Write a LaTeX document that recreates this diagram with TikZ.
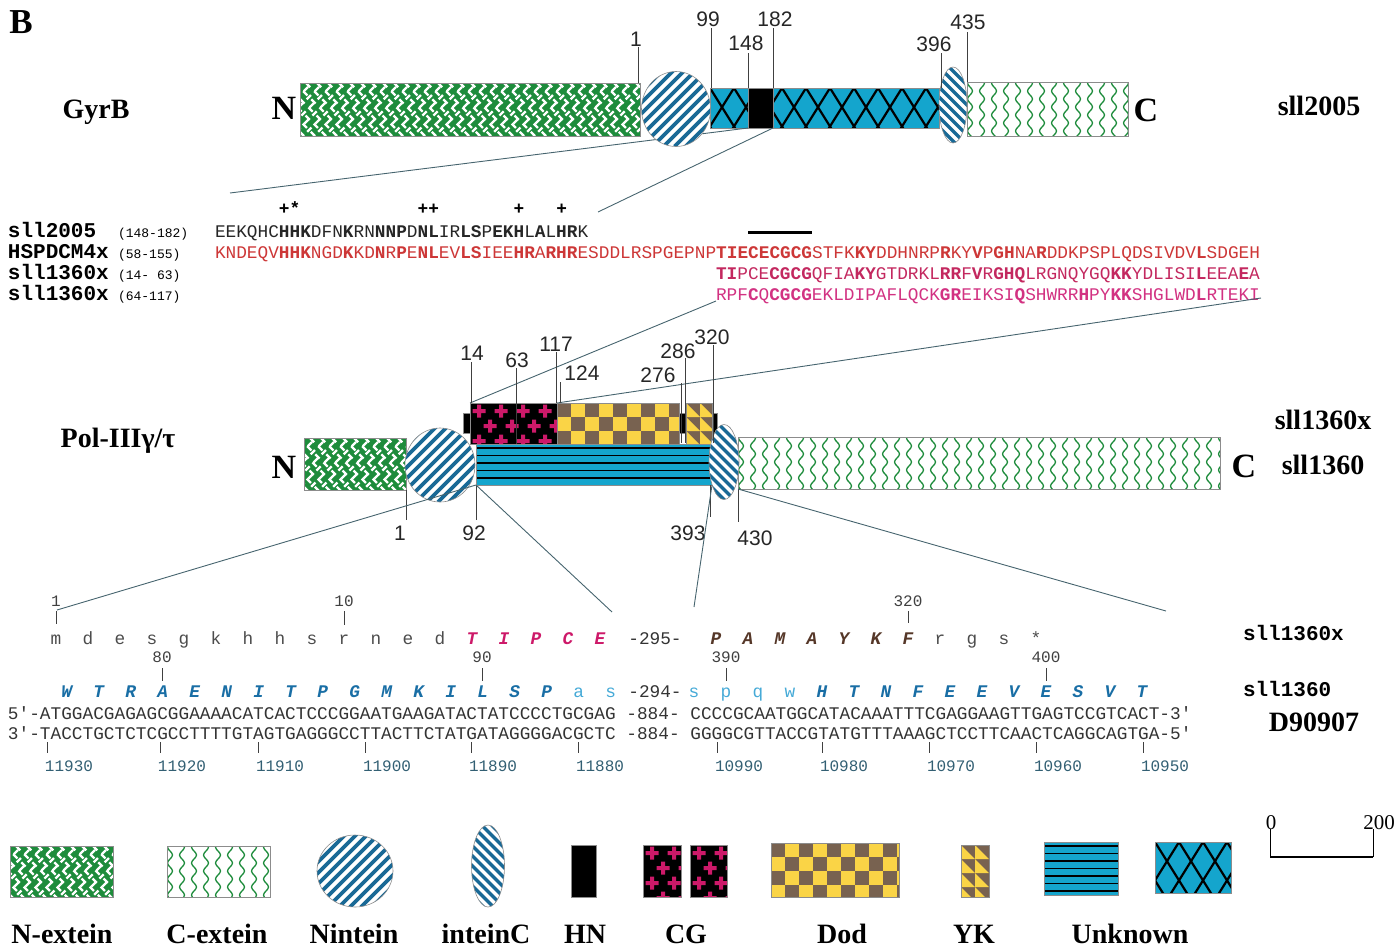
\documentclass[tikz,border=0pt]{standalone}
\usepackage{fontspec}
\setmainfont{Liberation Serif}
\setsansfont{Liberation Sans}
\setmonofont{Liberation Mono}
\usetikzlibrary{calc, shapes.geometric, decorations.pathmorphing}

\definecolor{extgreen}{RGB}{30,140,60}
\definecolor{intblue}{RGB}{25,105,150}
\definecolor{unkblue}{RGB}{20,165,205}
\definecolor{cgpink}{RGB}{205,25,105}
\definecolor{dodyellow}{RGB}{250,212,70}
\definecolor{dodbrown}{RGB}{120,98,80}
\definecolor{seqred}{RGB}{205,55,55}
\definecolor{seqrose}{RGB}{195,40,95}
\definecolor{seqmag}{RGB}{210,50,130}
\definecolor{seqblue}{RGB}{25,110,165}
\definecolor{seqsky}{RGB}{70,170,215}
\definecolor{seqbrown}{RGB}{85,55,40}
\definecolor{linegray}{RGB}{70,100,110}
\definecolor{numteal}{RGB}{50,95,115}

\tikzset{
  every node/.style={inner sep=0pt, outer sep=0pt},
  lab/.style={font=\bfseries\fontsize{28}{30}\selectfont},
  endlab/.style={font=\bfseries\fontsize{34}{36}\selectfont},
  poslab/.style={font=\sffamily\fontsize{21}{23}\selectfont, black!85},
  seqname/.style={anchor=base west, font=\ttfamily\bfseries\fontsize{21}{24}\selectfont},
  seqrange/.style={anchor=base west, font=\ttfamily\fontsize{13}{15}\selectfont},
  seqtext/.style={anchor=base west, font=\ttfamily\fontsize{17.77}{20}\selectfont},
  aa/.style={anchor=base, font=\ttfamily\fontsize{17.77}{20}\selectfont},
  aab/.style={anchor=base, font=\ttfamily\bfseries\itshape\fontsize{17.77}{20}\selectfont},
  resnum/.style={anchor=base, font=\ttfamily\fontsize{16}{18}\selectfont, black!75},
  tick/.style={black!75, line width=0.8pt},
  zoomline/.style={linegray, line width=0.9pt},
  pbox/.style={rectangle, draw=black!45, line width=0.6pt, anchor=north west},
  nextein/.style={pbox, fill=extgreen, path picture={
      \foreach \i in {-60,-49,...,500}{
        \draw[white, line width=2.4pt, dash pattern=on 6pt off 5.5pt]
          ($(path picture bounding box.north west)+(\i,0)$) -- ++(60,60);
        \draw[white, line width=2.4pt, dash pattern=on 6pt off 5.5pt, dash phase=6pt]
          ($(path picture bounding box.north west)+(\i+6,0)$) -- ++(-60,60);
      }}},
  cextein/.style={pbox, fill=white, path picture={
      \foreach \i [count=\k] in {3,15,...,500}{
        \draw[extgreen, line width=1.3pt, decorate,
              decoration={snake, amplitude=2.5pt, segment length=16pt}]
          ($(path picture bounding box.north west)+(\i,{-4-8*mod(\k,2)})$) -- ++(0,80);
      }}},
  nintein/.style={ellipse, draw=black!45, line width=0.6pt, fill=white, path picture={
      \foreach \i in {-110,-99,...,110}{
        \draw[intblue, line width=3.6pt]
          ($(path picture bounding box.south west)+(\i,0)$) -- ++(110,-110);
      }}},
  inteinc/.style={ellipse, draw=black!45, line width=0.6pt, fill=white, path picture={
      \foreach \i in {-100,-90,...,40}{
        \draw[intblue, line width=3.4pt]
          ($(path picture bounding box.north west)+(\i,0)$) -- ++(100,100);
      }}},
  hnbox/.style={pbox, fill=black},
  cgbox/.style={pbox, fill=black, path picture={
      \foreach \r in {0,...,3}{
        \foreach \c in {0,...,5}{
          \fill[cgpink] ($(path picture bounding box.north west)+({9+22*\c+11*mod(\r,2)},{8+15*\r})$)
            +(-6.5,-2) rectangle +(6.5,2) +(-2,-6.5) rectangle +(2,6.5);
        }}}},
  dodbox/.style={pbox, fill=dodyellow, path picture={
      \foreach \r in {0,...,4}{
        \foreach \c in {0,2,...,18}{
          \fill[dodbrown] ($(path picture bounding box.north west)+({14*(\c+mod(\r,2))},{14*\r})$) rectangle ++(14,14);
        }}}},
  ykbox/.style={pbox, fill=dodbrown, path picture={
      \foreach \r in {0,...,4}{
        \foreach \c in {0,...,2}{
          \fill[dodyellow] ($(path picture bounding box.north west)+({14*\c},{14*\r})$) -- ++(0,14) -- ++(14,0) -- cycle;
        }}}},
  hunk/.style={pbox, fill=unkblue, path picture={
      \foreach \j in {4,11.5,...,60}{
        \draw[black, line width=1.5pt] ($(path picture bounding box.north west)+(-5,\j)$) -- ++(800,0);
      }}},
  xunk/.style={pbox, fill=unkblue, path picture={
      \foreach \i in {-48,-24,...,300}{
        \draw[black, line width=2.2pt] ($(path picture bounding box.north west)+(\i,0)$) -- ++(40,64);
        \draw[black, line width=2.2pt] ($(path picture bounding box.north west)+(\i,0)$) -- ++(-40,64);
      }}}
}

\begin{document}
\begin{tikzpicture}[x=1pt, y=-1pt]
  \useasboundingbox (0,0) rectangle (1399,948);

  \node[font=\bfseries\fontsize{35}{36}\selectfont] (panel) at (21,22) {B};

  % GyrB (sll2005)
  \node[lab] (gyrbname) at (96,112) {GyrB};
  \node[endlab] (gNterm) at (284,108) {N};
  \node[nextein, minimum width=340pt, minimum height=53pt] (gNext) at (300,83) {};
  \node[xunk, minimum width=229pt, minimum height=40pt] (gUnk) at (710,88) {};
  \node[hnbox, minimum width=25pt, minimum height=40pt] (gHN) at (748,88) {};
  \node[cextein, minimum width=161pt, minimum height=54pt] (gCext) at (967,82) {};
  \node[endlab] (gCterm) at (1146,110) {C};
  \node[lab] (gyrbgene) at (1319,106) {sll2005};
  \coordinate (gz1) at (230,193);
  \coordinate (gz2) at (598,212);
  \draw[zoomline] (gz1) -- (gHN.south west);
  \draw[zoomline] (gz2) -- (gHN.south east);
  \node[nintein, minimum width=69pt, minimum height=75pt] (gNint) at (676,109) {};
  \node[inteinc, minimum width=28pt, minimum height=76pt] (gIntC) at (953,105) {};
  \foreach \x/\ya/\yb/\txt/\lx/\ly in {638/47/83/1/636/39, 711/28/88/99/708/19,
      748/53/88/148/746/43, 773/28/88/182/775/19, 941/53/88/396/934/44, 967/32/82/435/968/22}{
    \draw[tick] (\x,\ya) -- (\x,\yb);
    \node[poslab] (g\txt) at (\lx,\ly) {\txt};
  }

  % aligned segments
  \foreach \i/\s in {6/+,7/*,19/+,20/+,28/+,32/+}
    \node[aa, font=\ttfamily\bfseries\fontsize{17.77}{20}\selectfont] (mk\i) at ({215+(\i+0.5)*10.664},214) {\s};
  \node[fill=black, minimum width=64pt, minimum height=3pt, anchor=west] (cgbar) at (748,232) {};

  \node[seqname] (sq1name) at (8,237) {sll2005};
  \node[seqrange] (sq1range) at (118,237) {(148-182)};
  \node[seqtext, black!85] (sq1) at (215,237)
    {EEKQHC\textbf{HHK}DFN\textbf{K}RN\textbf{NNP}D\textbf{NL}IR\textbf{LS}P\textbf{EKH}L\textbf{A}L\textbf{HR}K};
  \node[seqname] (sq2name) at (8,258) {HSPDCM4x};
  \node[seqrange] (sq2range) at (118,258) {(58-155)};
  \node[seqtext, seqred] (sq2) at (215,258)
    {KNDEQV\textbf{HHK}NGD\textbf{K}KD\textbf{N}R\textbf{P}E\textbf{NL}EV\textbf{LS}IEE\textbf{HR}A\textbf{R}\textbf{HR}ESDDLRSPGEPNP\textbf{TIECECGCG}STFK\textbf{KY}DDHNRP\textbf{R}KY\textbf{V}P\textbf{GH}NA\textbf{R}DDKPSPLQDSIVDV\textbf{L}SDGEH};
  \node[seqname] (sq3name) at (8,279) {sll1360x};
  \node[seqrange] (sq3range) at (118,279) {(14- 63)};
  \node[seqtext, seqrose] (sq3) at (716,279)
    {\textbf{TI}PCE\textbf{CGCG}QFIA\textbf{KY}GTDRKL\textbf{RR}F\textbf{V}R\textbf{GHQ}LRGNQYGQ\textbf{KK}YDLISI\textbf{L}EEA\textbf{E}A};
  \node[seqname] (sq4name) at (8,300) {sll1360x};
  \node[seqrange] (sq4range) at (118,300) {(64-117)};
  \node[seqtext, seqmag] (sq4) at (716,300)
    {RPF\textbf{C}Q\textbf{CGCG}EKLDIPAFLQCK\textbf{GR}EIKSI\textbf{Q}SHWRR\textbf{H}PY\textbf{KK}SHGLWD\textbf{L}RTEKI};

  % Pol-III gamma/tau (sll1360)
  \node[lab] (polname) at (118,441) {Pol-IIIγ/τ};
  \node[endlab] (pNterm) at (284,467) {N};
  \node[nextein, minimum width=102pt, minimum height=52pt] (pNext) at (304,438) {};
  \node[hunk, minimum width=236pt, minimum height=41pt] (pUnk) at (476,444) {};
  \node[hnbox, minimum width=254pt, minimum height=20pt] (pHN) at (463,413) {};
  \node[cgbox, minimum width=87pt, minimum height=41pt] (pCG) at (470,403) {};
  \node[dodbox, minimum width=122pt, minimum height=41pt] (pDod) at (557,403) {};
  \node[ykbox, minimum width=26pt, minimum height=41pt] (pYK) at (686,403) {};
  \node[cextein, minimum width=482pt, minimum height=52pt] (pCext) at (738,437) {};
  \node[endlab] (pCterm) at (1244,466) {C};
  \node[lab] (polgenex) at (1323,420) {sll1360x};
  \node[lab] (polgene) at (1323,465) {sll1360};
  \coordinate (sz1) at (716,301);
  \coordinate (sz2) at (1261,298);
  \draw[zoomline] (pCG.north west) -- (sz1);
  \draw[zoomline] (pDod.north west) -- (sz2);
  \node[nintein, minimum width=70pt, minimum height=74pt] (pNint) at (440,465) {};
  \node[inteinc, minimum width=30pt, minimum height=75pt] (pIntC) at (724,462) {};
  \foreach \x/\ya/\yb/\txt/\lx/\ly in {471/362/403/14/472/353, 516/368/444/63/517/360,
      556/352/403/117/556/344, 560/382/403/124/582/373, 681/383/443/276/658/375,
      685/358/443/286/678/351, 713/345/443/320/712/337,
      406/490/520/1/400/533, 476/485/520/92/474/533, 710/485/517/393/688/533, 738/489/522/430/755/538}{
    \draw[tick] (\x,\ya) -- (\x,\yb);
    \node[poslab] (p\txt) at (\lx,\ly) {\txt};
  }

  % zoom into the DNA
  \coordinate (lz1) at (57,610);
  \coordinate (lz2) at (612,612);
  \coordinate (lz3) at (694,607);
  \coordinate (lz4) at (1166,611);
  \draw[zoomline] (lz1) -- (pUnk.south west);
  \draw[zoomline] (pUnk.south west) -- (lz2);
  \draw[zoomline] (pUnk.south east) -- (lz3);
  \draw[zoomline] (pCext.south west) -- (lz4);

  % sll1360x reading frame
  \foreach \x/\txt/\yb in {56/1/624, 344/10/625, 908/320/623}{
    \node[resnum] (na\txt) at (\x,606) {\txt};
    \draw[tick] (\x,611) -- (\x,\yb);
  }
  \foreach \a [count=\k from 0] in {m,d,e,s,g,k,h,h,s,r,n,e,d}
    \node[aa, black!70] (xa\k) at ({56+32*\k},644) {\a};
  \foreach \a [count=\k from 0] in {T,I,P,C,E}
    \node[aab, cgpink] (xb\k) at ({472+32*\k},644) {\a};
  \node[aa, black!80] (gap295) at (655,644) {-295-};
  \foreach \a [count=\k from 0] in {P,A,M,A,Y,K,F}
    \node[aab, seqbrown] (xc\k) at ({716+32*\k},644) {\a};
  \foreach \a [count=\k from 0] in {r,g,s,*}
    \node[aa, black!70] (xd\k) at ({940+32*\k},644) {\a};
  \node[seqname] (rfx) at (1243,640) {sll1360x};

  % sll1360 reading frame
  \foreach \x/\txt in {162/80, 482/90, 726/390, 1046/400}{
    \node[resnum] (nb\txt) at (\x,662) {\txt};
    \draw[tick] (\x,668) -- (\x,681);
  }
  \foreach \a [count=\k from 0] in {W,T,R,A,E,N,I,T,P,G,M,K,I,L,S,P}
    \node[aab, seqblue] (ya\k) at ({66.7+32*\k},697) {\a};
  \foreach \a [count=\k from 0] in {a,s}
    \node[aa, seqsky] (yb\k) at ({578.7+32*\k},697) {\a};
  \node[aa, black!80] (gap294) at (655,697) {-294-};
  \foreach \a [count=\k from 0] in {s,p,q,w}
    \node[aa, seqsky] (yc\k) at ({694+32*\k},697) {\a};
  \foreach \a [count=\k from 0] in {H,T,N,F,E,E,V,E,S,V,T}
    \node[aab, seqblue] (yd\k) at ({822+32*\k},697) {\a};
  \node[seqname] (rf) at (1243,696) {sll1360};

  % DNA D90907
  \node[seqtext, black!80] (dna5) at (8,719)
    {5'-ATGGACGAGAGCGGAAAACATCACTCCCGGAATGAAGATACTATCCCCTGCGAG -884- CCCCGCAATGGCATACAAATTTCGAGGAAGTTGAGTCCGTCACT-3'};
  \node[seqtext, black!80] (dna3) at (8,739)
    {3'-TACCTGCTCTCGCCTTTTGTAGTGAGGGCCTTACTTCTATGATAGGGGACGCTC -884- GGGGCGTTACCGTATGTTTAAAGCTCCTTCAACTCAGGCAGTGA-5'};
  \node[lab] (accno) at (1314,722) {D90907};
  \foreach \x/\txt in {47/11930, 160/11920, 258/11910, 365/11900, 471/11890, 578/11880,
      717/10990, 822/10980, 929/10970, 1036/10960, 1143/10950}{
    \draw[tick] (\x,742) -- (\x,753);
    \node[resnum, numteal] (nt\txt) at (\x+22,771) {\txt};
  }

  % key
  \node[nextein, minimum width=103pt, minimum height=51pt] (kNext) at (10,846) {};
  \node[cextein, minimum width=103pt, minimum height=51pt] (kCext) at (167,846) {};
  \node[nintein, minimum width=76pt, minimum height=72pt] (kNint) at (355,871) {};
  \node[inteinc, minimum width=33pt, minimum height=82pt] (kIntC) at (488,866) {};
  \node[hnbox, minimum width=25pt, minimum height=52pt] (kHN) at (571,845) {};
  \node[cgbox, minimum width=38pt, minimum height=52pt] (kCGa) at (643,845) {};
  \node[cgbox, minimum width=37pt, minimum height=52pt] (kCGb) at (690,845) {};
  \node[dodbox, minimum width=128pt, minimum height=54pt] (kDod) at (771,843) {};
  \node[ykbox, minimum width=28pt, minimum height=52pt] (kYK) at (961,845) {};
  \node[hunk, minimum width=74pt, minimum height=53pt] (kUnkH) at (1044,842) {};
  \node[xunk, minimum width=76pt, minimum height=51pt] (kUnkX) at (1155,842) {};
  \foreach \x/\txt [count=\k] in {62/N-extein, 217/C-extein, 354/Nintein, 486/inteinC,
      585/HN, 686/CG, 842/Dod, 974/YK, 1130/Unknown}
    \node[lab, anchor=base] (key\k) at (\x,943) {\txt};

  % scale bar
  \node[font=\fontsize{21}{22}\selectfont] (sc0) at (1271,823) {0};
  \node[font=\fontsize{21}{22}\selectfont] (sc200) at (1379,823) {200};
  \coordinate (scl) at (1270,857);
  \coordinate (scr) at (1373,857);
  \draw[line width=0.9pt] (scl) -- ++(0,-28);
  \draw[line width=0.9pt] (scr) -- ++(0,-28);
  \draw[line width=2.6pt] (scl) -- (scr);
\end{tikzpicture}
\end{document}
